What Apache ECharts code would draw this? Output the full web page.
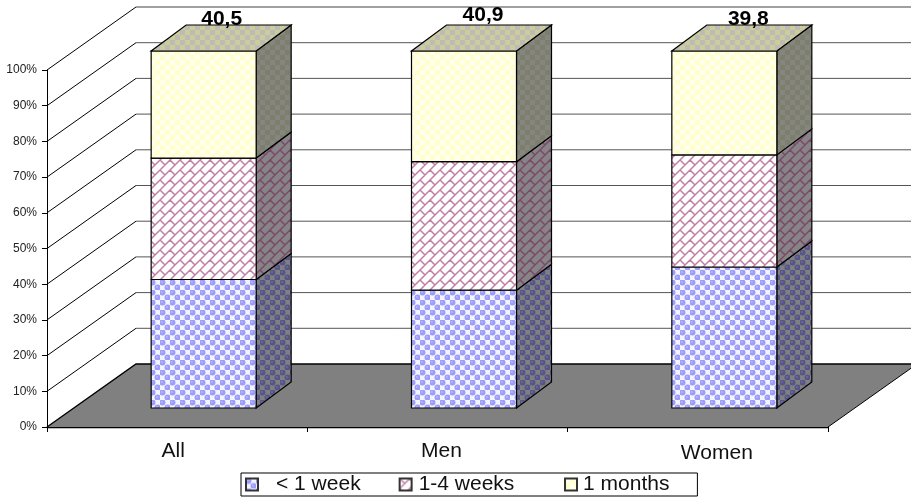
<!DOCTYPE html>
<html><head><meta charset="utf-8">
<style>html,body{margin:0;padding:0;background:#fff}#c{width:911px;height:498px}</style>
<script src="https://cdn.jsdelivr.net/npm/echarts@6/dist/echarts.min.js"></script>
</head><body><div id="c"></div>
<script>
const categories = ['All', 'Men', 'Women'];
const seriesNames = ['< 1 week', '1-4 weeks', '1 months'];
const underOneWeek = [36, 33, 39.5];
const oneToFourWeeks = [34, 36, 31.4];
const oneMonths = [30, 31, 29.1];
const totals = ['40,5', '40,9', '39,8'];
const tickValues = [0, 10, 20, 30, 40, 50, 60, 70, 80, 90, 100];

const FONT = '"Liberation Sans", Arial, sans-serif';
const WALL = [89, -63], BAR_FRONT = [26.5, -19], BAR_DEPTH = [35, -26];
const BAR_RATIO = 105 / 260.33;
const LABEL_NUDGE = [[-7, 0], [-6, -4], [-1, 0]];

function tile(size, draw) {
  const c = document.createElement('canvas');
  c.width = c.height = size;
  draw(c.getContext('2d'));
  return { type: 'pattern', image: c, repeat: 'repeat' };
}
function dots(bg, fg, hi) {
  return tile(10, g => {
    g.fillStyle = bg; g.fillRect(0, 0, 10, 10);
    [[2.5, 2.5], [7.5, 7.5]].forEach(p => {
      g.fillStyle = fg; g.beginPath(); g.arc(p[0], p[1], 3, 0, 7); g.fill();
      g.fillStyle = hi; g.beginPath(); g.arc(p[0] - 0.6, p[1] - 0.6, 1, 0, 7); g.fill();
    });
  });
}
function check(a, b) {
  return tile(10, g => {
    g.fillStyle = a; g.fillRect(0, 0, 10, 10);
    g.fillStyle = b; g.fillRect(0, 0, 5, 5); g.fillRect(5, 5, 5, 5);
  });
}
function bricks(bg, fg) {
  return tile(20, g => {
    g.fillStyle = bg; g.fillRect(0, 0, 20, 20);
    g.strokeStyle = fg; g.lineWidth = 1.5; g.beginPath();
    for (let k = 0; k <= 40; k += 10) { g.moveTo(k + 1, -1); g.lineTo(-1, k + 1); }
    [[0, 0], [10, 0], [10, 10], [0, 10]].forEach(p => {
      g.moveTo(p[0], p[1]); g.lineTo(p[0] + 5, p[1] + 5);
    });
    g.stroke();
  });
}
const FILLS = [
  { front: dots('#F4F4FF', '#9C9CFA', '#B8B8FF'), side: dots('#808080', '#55558A', '#6C6C9C') },
  { front: bricks('#FFFFFF', '#C27FA6'), side: bricks('#868486', '#7A4A68') },
  { front: check('#FFFFCC', '#FFFFF0'), side: check('#7E7E6C', '#868680'), top: check('#CCCC9C', '#BCBCB4') }
];

const chart = echarts.init(document.getElementById('c'), null, { renderer: 'canvas' });

const wallItem = (params, api) => {
  const v = api.value(1);
  const p = api.coord([0, v]);
  const w = api.size([1, 0])[0];
  const x0 = p[0] - w / 2, y0 = p[1];
  const xEnd = x0 + 3 * w;
  const children = [];
  if (v === 0) {
    children.push({ type: 'polygon', shape: { points: [[x0, y0], [xEnd, y0], [xEnd + WALL[0], y0 + WALL[1]], [x0 + WALL[0], y0 + WALL[1]]] },
      style: { fill: '#808080', stroke: 'none' } });
    children.push({ type: 'polyline', shape: { points: [[xEnd, y0], [xEnd + WALL[0], y0 + WALL[1]]] }, style: { stroke: '#000', lineWidth: 1, fill: 'none' } });
    children.push({ type: 'polyline', shape: { points: [[x0, y0], [x0 + WALL[0], y0 + WALL[1]], [xEnd + WALL[0], y0 + WALL[1]]] }, style: { stroke: '#000', lineWidth: 1.4, fill: 'none' } });
  } else {
    children.push({ type: 'line', shape: { x1: x0, y1: y0, x2: x0 + WALL[0], y2: y0 + WALL[1] }, style: { stroke: '#000', lineWidth: 1 } });
    children.push({ type: 'line', shape: { x1: x0 + WALL[0], y1: y0 + WALL[1], x2: xEnd + WALL[0], y2: y0 + WALL[1] },
      style: { stroke: v === 100 ? '#808080' : '#555', lineWidth: v === 100 ? 1.6 : 1 } });
  }
  return { type: 'group', children };
};

const barItem = s => (params, api) => {
  const i = api.value(0), lo = api.value(1), hi = api.value(2);
  const w = api.size([1, 0])[0] * BAR_RATIO;
  const a = api.coord([i, lo]), b = api.coord([i, hi]);
  const x1 = a[0] + BAR_FRONT[0] - w / 2, x2 = x1 + w;
  const yb = a[1] + BAR_FRONT[1], yt = b[1] + BAR_FRONT[1];
  const dx = BAR_DEPTH[0], dy = BAR_DEPTH[1];
  const edge = { stroke: '#000', lineWidth: 1.2 };
  const children = [
    { type: 'polygon', shape: { points: [[x2, yb], [x2 + dx, yb + dy], [x2 + dx, yt + dy], [x2, yt]] },
      style: Object.assign({ fill: FILLS[s].side }, edge) },
    { type: 'polygon', shape: { points: [[x1, yb], [x2, yb], [x2, yt], [x1, yt]] },
      style: Object.assign({ fill: FILLS[s].front }, edge) }
  ];
  if (s === 2) {
    children.push({ type: 'polygon', shape: { points: [[x1, yt], [x2, yt], [x2 + dx, yt + dy], [x1 + dx, yt + dy]] },
      style: Object.assign({ fill: FILLS[s].top }, edge) });
    children.push({ type: 'text', style: { text: totals[i], x: (x1 + x2) / 2 + 25 + LABEL_NUDGE[i][0], y: yt - 32 + LABEL_NUDGE[i][1],
      font: 'bold 21px ' + FONT, fill: '#000', align: 'center', verticalAlign: 'middle' } });
  }
  return { type: 'group', children };
};

const stacks = [underOneWeek, oneToFourWeeks, oneMonths];
const stackData = s => categories.map((c, i) => {
  let lo = 0;
  for (let k = 0; k < s; k++) lo += stacks[k][i];
  return [i, lo, lo + stacks[s][i]];
});

chart.setOption({
  animation: false,
  backgroundColor: '#fff',
  grid: { left: 47, top: 70, width: 781, height: 357, containLabel: false },
  xAxis: {
    type: 'category', boundaryGap: true,
    data: [
      { value: categories[0], textStyle: { padding: [0, 8, 0, 0] } },
      { value: categories[1], textStyle: { padding: [0, 0, 4, 8] } },
      { value: categories[2], textStyle: { padding: [2, 0, 0, 38] } }
    ],
    axisLine: { show: true, lineStyle: { color: '#000', width: 1.4 } },
    axisTick: { show: true, length: 5, lineStyle: { color: '#000' } },
    axisLabel: { color: '#111', fontFamily: FONT, fontSize: 21, margin: 14 },
    splitLine: { show: false }
  },
  yAxis: {
    type: 'value', min: 0, max: 100, interval: 10,
    axisLine: { show: true, lineStyle: { color: '#000' } },
    axisTick: { show: true, length: 5, lineStyle: { color: '#000' } },
    axisLabel: { formatter: '{value}%', color: '#222', fontFamily: FONT, fontSize: 12, margin: 10 },
    splitLine: { show: false }
  },
  legend: {
    left: 241, top: 473, orient: 'horizontal', selectedMode: false,
    padding: [1, 28, 1, 4], itemWidth: 12, itemHeight: 12, itemGap: 38,
    borderColor: '#000', borderWidth: 1,
    formatter: name => (name === seriesNames[1] ? name + '\u00A0\u00A0' : name),
    textStyle: { fontFamily: FONT, fontSize: 21, color: '#111' },
    data: [
      { name: seriesNames[0], icon: 'rect', textStyle: { padding: [0, 0, 0, 13] } },
      { name: seriesNames[1], icon: 'rect', textStyle: { padding: [0, 0, 0, 2] } },
      { name: seriesNames[2], icon: 'rect', textStyle: { padding: [4, 0, -4, 1] } }
    ]
  },
  series: [
    { type: 'custom', name: 'wall', coordinateSystem: 'cartesian2d', silent: true,
      clip: false, z: 1, renderItem: wallItem, encode: { x: 0, y: 1 },
      data: tickValues.map(v => [0, v]) }
  ].concat(seriesNames.map((name, s) => ({
    type: 'custom', name, coordinateSystem: 'cartesian2d', silent: true, clip: false, z: 3 + s,
    renderItem: barItem(s), encode: { x: 0, y: [1, 2] },
    itemStyle: { color: FILLS[s].front, borderColor: '#333', borderWidth: 1 },
    data: stackData(s)
  })))
});
</script></body></html>
